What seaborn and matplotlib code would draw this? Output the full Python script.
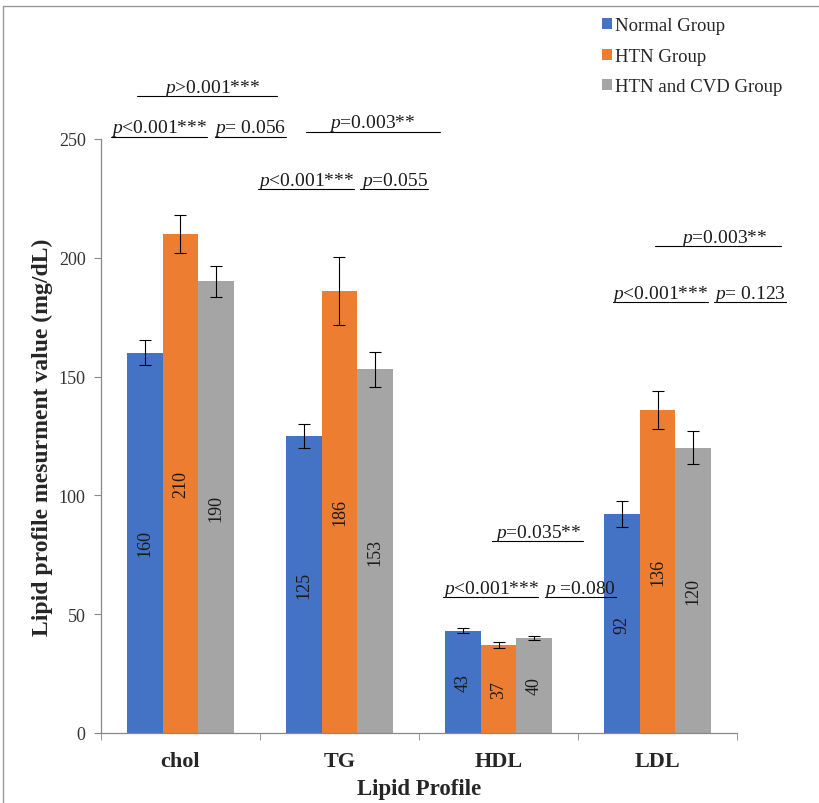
import matplotlib
matplotlib.use('Agg')
import matplotlib.pyplot as plt
from matplotlib.patches import Patch
from matplotlib.lines import Line2D
import seaborn as sns
import pandas as pd
import numpy as np

# Data
categories = ['chol', 'TG', 'HDL', 'LDL']
groups = ['Normal Group', 'HTN Group', 'HTN and CVD Group']
normal_vals = [160, 125, 43, 92]
htn_vals = [210, 186, 37, 136]
cvd_vals = [190, 153, 40, 120]
normal_err = [5.3, 5.0, 1.0, 5.5]
htn_err = [8.0, 14.5, 1.2, 8.0]
cvd_err = [6.5, 7.5, 1.0, 7.0]
colors = ['#4472C4', '#ED7D31', '#A5A5A5']

# p-value labels: text, underline start, underline end, line height, text centre
p_labels = [
    (r'$\it{p}$>0.001***', -0.274, 0.607, 268, 0.198),
    (r'$\it{p}$<0.001***', -0.437, 0.167, 251, -0.135),
    (r'$\it{p}$= 0.056', 0.217, 0.664, 251, 0.44),
    (r'$\it{p}$=0.003**', 0.789, 1.632, 253, 1.204),
    (r'$\it{p}$<0.001***', 0.487, 1.091, 229, 0.789),
    (r'$\it{p}$=0.055', 1.129, 1.557, 229, 1.343),
    (r'$\it{p}$=0.003**', 2.984, 3.777, 205, 3.418),
    (r'$\it{p}$<0.001***', 2.72, 3.318, 181.4, 3.019),
    (r'$\it{p}$= 0.123', 3.355, 3.808, 181.4, 3.582),
    (r'$\it{p}$=0.035**', 1.959, 2.531, 80.8, 2.248),
    (r'$\it{p}$<0.001***', 1.651, 2.248, 57.2, 1.95),
    (r'$\it{p}$ =0.080', 2.292, 2.739, 57.2, 2.515),
]

df = pd.DataFrame({
    'Lipid': categories * 3,
    'Group': [g for g in groups for _ in categories],
    'Value': normal_vals + htn_vals + cvd_vals,
})
errs = [normal_err, htn_err, cvd_err]

sns.set_style('white')
plt.rcParams['font.family'] = ['Liberation Serif', 'DejaVu Serif']
plt.rcParams['mathtext.fontset'] = 'custom'
plt.rcParams['mathtext.rm'] = 'Liberation Serif'
plt.rcParams['mathtext.it'] = 'Liberation Serif:italic'

fig = plt.figure(figsize=(8.19, 8.04), dpi=100)
ax = fig.add_axes([0.1233, 0.0871, 0.7766, 0.7389])

sns.barplot(data=df, x='Lipid', y='Value', hue='Group', palette=colors,
            width=0.67, gap=0, errorbar=None, legend=False, ax=ax,
            saturation=1)

for cont, err in zip(ax.containers, errs):
    xs = [b.get_x() + b.get_width() / 2 for b in cont]
    hs = [b.get_height() for b in cont]
    ax.errorbar(xs, hs, yerr=err, fmt='none', ecolor='black',
                elinewidth=0.8, capsize=4, capthick=0.8)
    ax.bar_label(cont, labels=[f'{h:.0f}' for h in hs], label_type='center',
                 rotation=90, fontsize=13, color='#1a1a1a')

for b in ax.patches:
    b.set_edgecolor('none')

ax.set_xlim(-0.5, 3.5)
ax.set_ylim(0, 250)
ax.set_yticks([0, 50, 100, 150, 200, 250])
ax.tick_params(axis='y', labelsize=13, length=5, color='#888888',
               left=True, pad=6, labelcolor='#333333')
ax.set_xticks(np.arange(len(categories)))
ax.set_xticklabels(categories, fontsize=16, fontweight='bold')
ax.tick_params(axis='x', which='major', length=0, pad=13)
ax.set_xticks(np.arange(-0.5, len(categories)), minor=True)
ax.tick_params(axis='x', which='minor', length=5, color='#888888',
               bottom=True)
for s in ['top', 'right']:
    ax.spines[s].set_visible(False)
for s in ['left', 'bottom']:
    ax.spines[s].set_color('#888888')
    ax.spines[s].set_linewidth(0.9)

ax.set_xlabel('Lipid Profile', fontsize=16.5, fontweight='bold', labelpad=5)
ax.set_ylabel('Lipid profile mesurment value (mg/dL)', fontsize=17,
              fontweight='bold', labelpad=4)

for txt, x0, x1, y, xc in p_labels:
    ax.plot([x0, x1], [y, y], color='black', lw=0.8, clip_on=False)
    ax.text(xc, y + 1.8, txt, ha='center', va='baseline', fontsize=14,
            color='#1a1a1a', clip_on=False)

handles = [Patch(facecolor=c, edgecolor='none') for c in colors]
fig.legend(handles, groups, loc='upper left', bbox_to_anchor=(0.714, 0.998),
           frameon=False, fontsize=13.5, handlelength=0.55, handleheight=0.55,
           handletextpad=0.15, labelspacing=0.72)

# chart border
fig.add_artist(Line2D([0.004, 1.0], [0.991, 0.991], color='#999999', lw=1))
fig.add_artist(Line2D([0.004, 0.004], [0.0, 0.991], color='#999999', lw=1))

fig.savefig('out.png', dpi=100)
